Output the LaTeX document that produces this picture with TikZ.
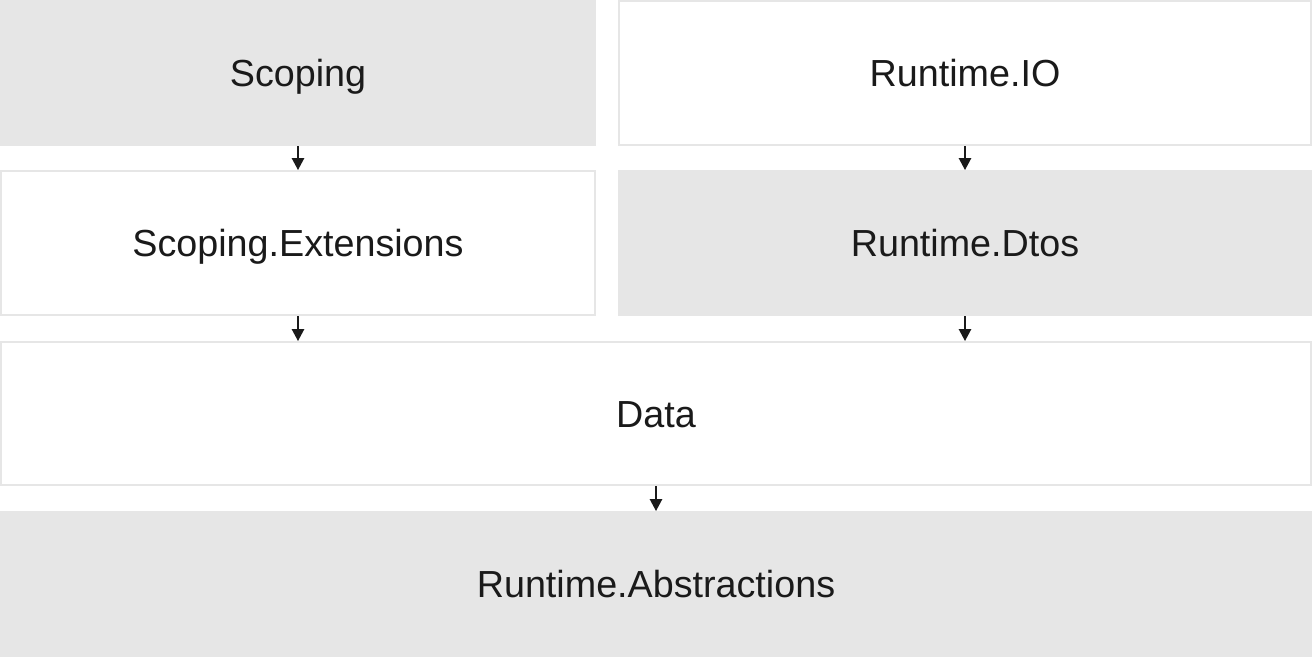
\documentclass[tikz,border=0pt]{standalone}
\usepackage{fontspec}
\setmainfont{Liberation Sans}
\usetikzlibrary{arrows.meta}
\definecolor{boxgray}{HTML}{E6E6E6}
\definecolor{ink}{HTML}{1A1A1A}
\begin{document}
\begin{tikzpicture}[x=1pt,y=-1pt,
  module/.style={draw=boxgray,line width=2pt,inner sep=0pt,
    text height=27pt,text depth=0pt,
    font=\fontsize{37.7}{45}\selectfont,text=ink},
  shaded/.style={module,fill=boxgray},
  plain/.style={module,fill=white},
  dep/.style={draw=ink,line width=1.3pt,-{Triangle[width=12.5pt,length=12pt]}}]
\useasboundingbox (0,0) rectangle (1312,657);
% two columns at the top, full-width layers below
\node[shaded,minimum width=594pt,minimum height=144pt] (scoping) at (298,73) {Scoping};
\node[plain,minimum width=692pt,minimum height=144pt] (io) at (965,73) {Runtime.IO};
\node[plain,minimum width=594pt,minimum height=144pt] (scext) at (298,243) {Scoping.Extensions};
\node[shaded,minimum width=692pt,minimum height=144pt] (dtos) at (965,243) {Runtime.Dtos};
\node[plain,minimum width=1310pt,minimum height=143pt] (data) at (656,413.5) {Data};
\node[shaded,minimum width=1310pt,minimum height=144pt] (abs) at (656,584) {Runtime.Abstractions};
% dependency arrows
\draw[dep] (scoping.south) -- (scext.north);
\draw[dep] (io.south) -- (dtos.north);
\draw[dep] (scext.south) -- (scext.south |- data.north);
\draw[dep] (dtos.south) -- (dtos.south |- data.north);
\draw[dep] (data.south) -- (abs.north);
\end{tikzpicture}
\end{document}
